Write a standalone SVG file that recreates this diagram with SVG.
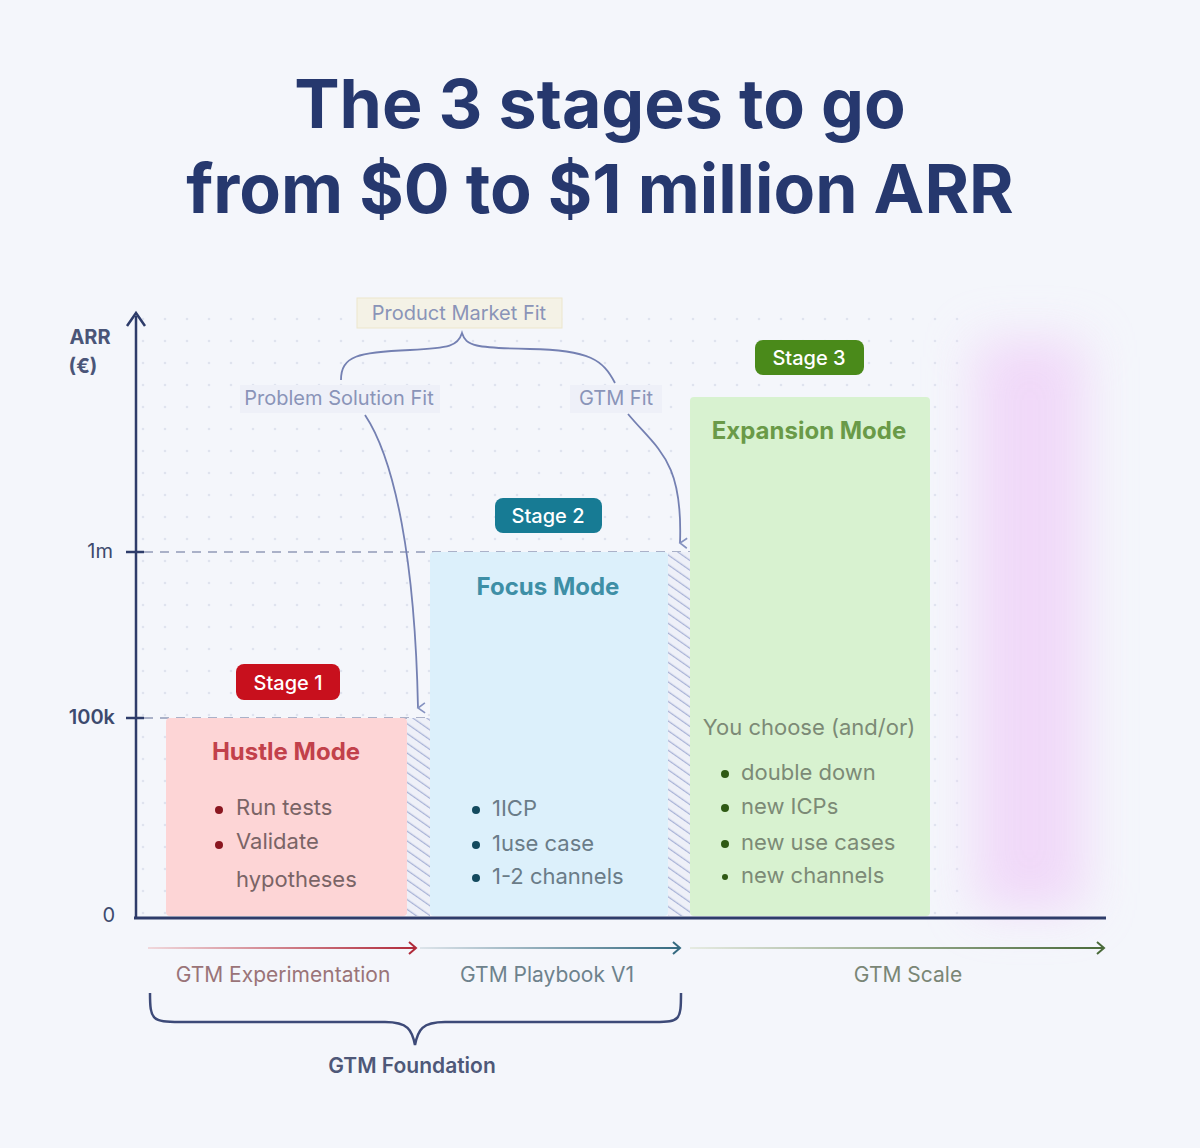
<svg xmlns="http://www.w3.org/2000/svg" width="1200" height="1148" viewBox="0 0 1200 1148">
<defs>
<style>
text{font-family:Inter,"Noto Sans",sans-serif}
.title{font-size:68px;font-weight:700;fill:#26386e}
.ax{font-size:20px;fill:#3d4a6e}
.lbl{font-size:20px;fill:#8a94b8}
.badge{font-size:20px;font-weight:500;fill:#fff}
.item{font-size:22px}
.bot{font-size:21px}
</style>
<pattern id="dots" width="22" height="22" patternUnits="userSpaceOnUse"><circle cx="11" cy="11" r="1.3" fill="#dfe3ee"/></pattern>
<pattern id="hatch" width="8" height="8" patternUnits="userSpaceOnUse" patternTransform="rotate(-55)"><rect width="8" height="8" fill="#eef0f8"/><line x1="0" y1="0" x2="0" y2="8" stroke="#a8b2d6" stroke-width="2.5"/></pattern>
<filter id="blur" x="-50%" y="-20%" width="200%" height="140%"><feGaussianBlur stdDeviation="25"/></filter>
<marker id="ah" markerWidth="12" markerHeight="12" refX="6" refY="10" orient="auto" markerUnits="userSpaceOnUse"><path d="M1,3 L6,10 L11,3" fill="none" stroke="#8592c0" stroke-width="1.6"/></marker>
<marker id="ar" markerWidth="14" markerHeight="14" refX="10" refY="7" orient="auto" markerUnits="userSpaceOnUse"><path d="M3,1 L10,7 L3,13" fill="none" stroke="#b02a3a" stroke-width="2"/></marker>
<marker id="at" markerWidth="14" markerHeight="14" refX="10" refY="7" orient="auto" markerUnits="userSpaceOnUse"><path d="M3,1 L10,7 L3,13" fill="none" stroke="#356a80" stroke-width="2"/></marker>
<marker id="ag" markerWidth="14" markerHeight="14" refX="10" refY="7" orient="auto" markerUnits="userSpaceOnUse"><path d="M3,1 L10,7 L3,13" fill="none" stroke="#4a6a3a" stroke-width="2"/></marker>
<linearGradient id="gr" gradientUnits="userSpaceOnUse" x1="148" y1="0" x2="416" y2="0"><stop offset="0" stop-color="#f0d8dc"/><stop offset="1" stop-color="#b02a3a"/></linearGradient>
<linearGradient id="gt" gradientUnits="userSpaceOnUse" x1="420" y1="0" x2="680" y2="0"><stop offset="0" stop-color="#dde4ea"/><stop offset="1" stop-color="#356a80"/></linearGradient>
<linearGradient id="gg" gradientUnits="userSpaceOnUse" x1="690" y1="0" x2="1104" y2="0"><stop offset="0" stop-color="#e6ebe2"/><stop offset="1" stop-color="#4a6a3a"/></linearGradient>
</defs>
<rect width="1200" height="1148" fill="#f4f6fb"/>
<rect x="140" y="315" width="830" height="600" fill="url(#dots)"/>
<text class="title" x="600" y="128" text-anchor="middle">The 3 stages to go</text>
<text class="title" x="600" y="213" text-anchor="middle">from $0 to $1 million ARR</text>

<rect x="975" y="340" width="110" height="570" fill="#f0d2f8" opacity="0.8" filter="url(#blur)"/>

<g id="axes">
<line x1="136" y1="918" x2="136" y2="316" stroke="#2e3c6a" stroke-width="2.5"/>
<path d="M127,326 L136,313 L145,326" fill="none" stroke="#2e3c6a" stroke-width="2.5"/>
<line x1="134" y1="918" x2="1106" y2="918" stroke="#2e3c6a" stroke-width="3"/>
<line x1="126" y1="552" x2="144" y2="552" stroke="#2e3c6a" stroke-width="2.5"/>
<line x1="126" y1="718" x2="144" y2="718" stroke="#2e3c6a" stroke-width="2.5"/>
<line x1="144" y1="552" x2="690" y2="552" stroke="#aab1c8" stroke-width="2" stroke-dasharray="9 7"/>
<line x1="144" y1="718" x2="430" y2="718" stroke="#aab1c8" stroke-width="2" stroke-dasharray="9 7"/>
<text x="90" y="344" text-anchor="middle" font-size="20" font-weight="700" fill="#4a5578">ARR</text>
<text x="83" y="373" text-anchor="middle" font-size="20" font-weight="700" fill="#4a5578">(€)</text>
<text class="ax" x="113" y="558" text-anchor="end">1m</text>
<text class="ax" x="115" y="724" text-anchor="end" font-weight="600">100k</text>
<text class="ax" x="115" y="922" text-anchor="end">0</text>
</g>

<rect x="407" y="718" width="23" height="198" fill="url(#hatch)"/>
<rect x="668" y="552" width="22" height="364" fill="url(#hatch)"/>

<g id="hustle">
<rect x="166" y="718" width="241" height="198" rx="4" fill="#fdd5d6"/>
<text x="286" y="760" text-anchor="middle" font-size="24" font-weight="700" fill="#c2414b">Hustle Mode</text>
<circle cx="219" cy="810" r="4" fill="#8a1620"/><text class="item" x="236" y="815" fill="#7a6466">Run tests</text>
<circle cx="219" cy="845" r="4" fill="#8a1620"/><text class="item" x="236" y="849" fill="#7a6466">Validate</text>
<text class="item" x="236" y="887" fill="#7a6466">hypotheses</text>
</g>
<g id="stage1"><rect x="236" y="664" width="104" height="36" rx="8" fill="#c8101d"/><text class="badge" x="288" y="690" text-anchor="middle">Stage 1</text></g>

<g id="focus">
<rect x="430" y="552" width="238" height="364" rx="4" fill="#dcf0fb"/>
<text x="548" y="595" text-anchor="middle" font-size="24" font-weight="700" fill="#3e8fa6">Focus Mode</text>
<circle cx="476" cy="810" r="4" fill="#134a5e"/><text class="item" x="492" y="816" fill="#6a7c88">1ICP</text>
<circle cx="476" cy="845" r="4" fill="#134a5e"/><text class="item" x="492" y="851" fill="#6a7c88">1use case</text>
<circle cx="476" cy="878" r="4" fill="#134a5e"/><text class="item" x="492" y="884" fill="#6a7c88">1-2 channels</text>
</g>
<g id="stage2"><rect x="495" y="498" width="107" height="35" rx="8" fill="#177b94"/><text class="badge" x="548" y="523" text-anchor="middle">Stage 2</text></g>

<g id="expansion">
<rect x="690" y="397" width="240" height="519" rx="4" fill="#d8f2d0"/>
<text x="809" y="439" text-anchor="middle" font-size="24" font-weight="700" fill="#6a9a48">Expansion Mode</text>
<text class="item" x="809" y="735" text-anchor="middle" fill="#7c8a76">You choose (and/or)</text>
<circle cx="725" cy="774" r="4" fill="#2f5a14"/><text class="item" x="741" y="780" fill="#7c8a76">double down</text>
<circle cx="725" cy="808" r="4" fill="#2f5a14"/><text class="item" x="741" y="814" fill="#7c8a76">new ICPs</text>
<circle cx="725" cy="844" r="4" fill="#2f5a14"/><text class="item" x="741" y="850" fill="#7c8a76">new use cases</text>
<circle cx="725" cy="877" r="3" fill="#2f5a14"/><text class="item" x="741" y="883" fill="#7c8a76">new channels</text>
</g>
<g id="stage3"><rect x="755" y="340" width="109" height="35" rx="8" fill="#4a8a1a"/><text class="badge" x="809" y="365" text-anchor="middle">Stage 3</text></g>

<g id="pmf"><rect x="357" y="298" width="205" height="30" fill="#f4f2e6" stroke="#ece6cc"/><text class="lbl" x="459" y="320" text-anchor="middle">Product Market Fit</text></g>
<g id="psf"><rect x="240" y="385" width="200" height="28" fill="#eef0f8"/><text class="lbl" x="339" y="405" text-anchor="middle">Problem Solution Fit</text></g>
<g id="gtmfit"><rect x="570" y="385" width="92" height="28" fill="#eef0f8"/><text class="lbl" x="616" y="405" text-anchor="middle">GTM Fit</text></g>

<g id="connectors" fill="none" stroke="#7480b2" stroke-width="1.8">
<path d="M341,380 C341,356 358,352 410,350 C450,348 458,346 462,333 C466,346 475,348 530,349 C590,350 603,360 615,383"/>
<path d="M365,415 C395,460 415,560 418,708" marker-end="url(#ah)"/>
<path d="M628,414 C658,450 683,460 680,543" marker-end="url(#ah)"/>
<line x1="148" y1="948" x2="416" y2="948" stroke="url(#gr)" stroke-width="2" marker-end="url(#ar)"/>
<line x1="420" y1="948" x2="680" y2="948" stroke="url(#gt)" stroke-width="2" marker-end="url(#at)"/>
<line x1="690" y1="948" x2="1104" y2="948" stroke="url(#gg)" stroke-width="2" marker-end="url(#ag)"/>
<path d="M150,993 C150,1020 152,1022 180,1022 L385,1022 C408,1022 412,1030 415,1045 C418,1030 422,1022 445,1022 L655,1022 C680,1022 681,1020 681,993" stroke="#3d4a78" stroke-width="2.5"/>
</g>

<g id="bottom">
<text class="bot" x="283" y="982" text-anchor="middle" fill="#9a7478">GTM Experimentation</text>
<text class="bot" x="547" y="982" text-anchor="middle" fill="#6e828c">GTM Playbook V1</text>
<text class="bot" x="908" y="982" text-anchor="middle" fill="#7a8676">GTM Scale</text>
<text x="412" y="1073" text-anchor="middle" font-size="21" font-weight="600" fill="#4e5878">GTM Foundation</text>
</g>
</svg>
